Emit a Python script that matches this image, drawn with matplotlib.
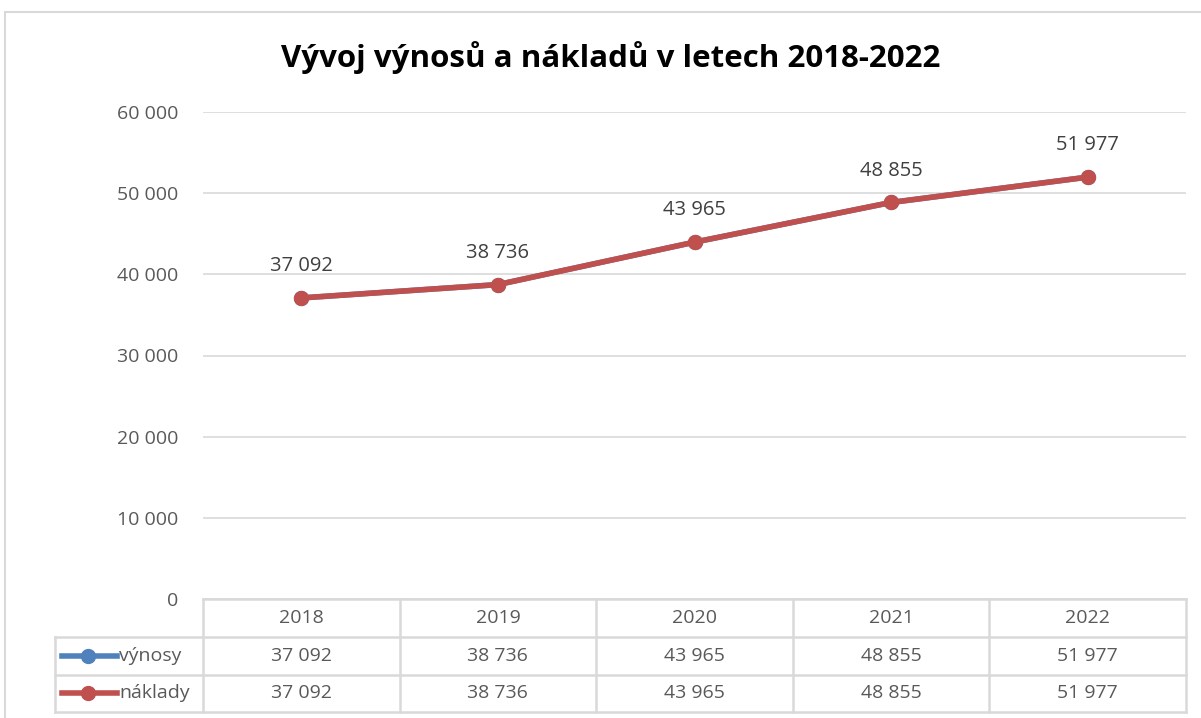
import matplotlib.pyplot as plt
from matplotlib.patches import Rectangle
from matplotlib.lines import Line2D

# Data
years = ['2018', '2019', '2020', '2021', '2022']
vynosy = [37092, 38736, 43965, 48855, 51977]
naklady = [37092, 38736, 43965, 48855, 51977]
series_names = ['výnosy', 'náklady']
title = 'Vývoj výnosů a nákladů v letech 2018-2022'

BLUE = '#4F81BD'
RED = '#C0504D'
GRID = '#D9D9D9'
TXT = '#595959'


def fmt(v):
    return f'{v:,}'.replace(',', ' ')


plt.rcParams['font.family'] = ['Open Sans', 'DejaVu Sans']

fig = plt.figure(figsize=(12.01, 7.18), dpi=100)
W, H = 1201, 718

# outer chart border
fig.patches.append(Rectangle((5 / W, -0.1), 1.2, 1 - 12 / H + 0.1, transform=fig.transFigure,
                             fill=False, edgecolor=GRID, linewidth=1.5))

ax = fig.add_axes([203 / W, 1 - 599 / H, 983 / W, 487 / H])
x = list(range(len(years)))

ax.plot(x, vynosy, color=BLUE, linewidth=4, marker='o', markersize=10, zorder=3)
ax.plot(x, naklady, color=RED, linewidth=4, marker='o', markersize=10, zorder=4)

for xi, v in zip(x, naklady):
    ax.annotate(fmt(v), (xi, v), xytext=(0, 23), textcoords='offset points',
                ha='center', va='center', fontsize=14.5, color='#404040')

ax.set_xlim(-0.5, len(years) - 0.5)
ax.set_ylim(0, 60000)
ax.set_yticks(range(0, 60001, 10000))
ax.set_yticklabels([fmt(t) for t in range(0, 60001, 10000)])
ax.tick_params(axis='y', length=0, pad=18, labelsize=14, labelcolor=TXT)
ax.set_xticks([])
ax.grid(axis='y', color=GRID, linewidth=1.2)
ax.set_axisbelow(True)
for s in ax.spines.values():
    s.set_visible(False)

fig.text(611 / W, 1 - 57 / H, title, ha='center', va='center',
         fontsize=22.5, fontweight='bold', color='black')

# data table below the plot
tr = ax.get_xaxis_transform()
rows_y = [0, -0.078, -0.156, -0.232]
left = -1.253
lk = dict(color=GRID, linewidth=1.8, transform=tr, clip_on=False)
ax.add_line(Line2D([-0.5, 4.5], [rows_y[0]] * 2, **lk))
for ry in rows_y[1:]:
    ax.add_line(Line2D([left, 4.5], [ry] * 2, **lk))
for xv in [i - 0.5 for i in range(len(years) + 1)]:
    ax.add_line(Line2D([xv, xv], [rows_y[0], rows_y[-1]], **lk))
ax.add_line(Line2D([left, left], [rows_y[1], rows_y[-1]], **lk))

for xi, yr in zip(x, years):
    ax.text(xi, (rows_y[0] + rows_y[1]) / 2, yr, transform=tr, ha='center', va='center',
            fontsize=14, color=TXT)

for r, (name, vals, col) in enumerate(zip(series_names, [vynosy, naklady], [BLUE, RED])):
    yc = (rows_y[r + 1] + rows_y[r + 2]) / 2
    ax.add_line(Line2D([-1.217, -0.937], [yc, yc], color=col, linewidth=4,
                       transform=tr, clip_on=False))
    ax.add_line(Line2D([-1.085], [yc], color=col, marker='o', markersize=10,
                       transform=tr, clip_on=False))
    ax.text(-0.925, yc, name, transform=tr, ha='left', va='center', fontsize=14, color=TXT)
    for xi, v in zip(x, vals):
        ax.text(xi, yc, fmt(v), transform=tr, ha='center', va='center',
                fontsize=14, color=TXT)

fig.savefig('out.png', dpi=100)
